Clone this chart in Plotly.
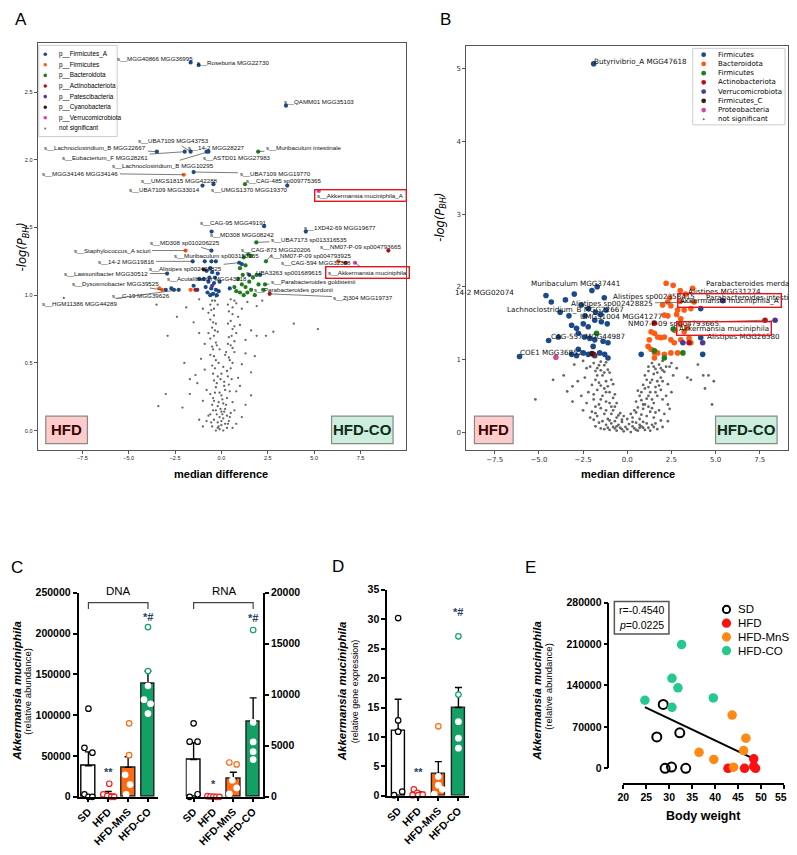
import numpy as np
import plotly.graph_objects as go

# the page body keeps an 8 px margin, so the figure is drawn 16 px smaller
# and every pixel position below is given in page pixels
OFF = 8
W, H = 797 - 2 * OFF, 855 - 2 * OFF
ARIAL = "Arial, Liberation Sans, sans-serif"
DJV = "DejaVu Sans, sans-serif"


def fx(px):
    return (px - OFF) / W


def fy(py):
    return 1 - (py - OFF) / H


# ---------------- A: volcano (HFD vs HFD-CO, DNA) ----------------
a_ns = [(-0.3, 0.0), (-0.1, 0.01), (0.1, 0.0), (0.3, 0.02), (-0.5, 0.03), (0.0, 0.04), (0.2, 0.05),
        (-0.2, 0.06), (0.4, 0.07), (-0.4, 0.08), (0.1, 0.09), (-0.1, 0.1), (0.3, 0.11), (-0.6, 0.12),
        (0.5, 0.13), (0.0, 0.14), (-0.3, 0.15), (0.2, 0.16), (-1.0, 0.03), (-0.8, 0.07), (0.8, 0.05),
        (1.1, 0.1), (-1.2, 0.08), (0.6, 0.02), (-0.7, 0.11), (0.7, 0.15), (-0.2, 0.02), (0.0, 0.07),
        (-0.2, 0.18), (0.1, 0.2), (-0.4, 0.22), (0.3, 0.24), (0.0, 0.26), (-0.1, 0.28), (0.2, 0.3),
        (-0.3, 0.32), (0.4, 0.34), (-0.5, 0.19), (0.6, 0.21), (-0.6, 0.27), (0.8, 0.29), (-0.8, 0.3),
        (1.0, 0.33), (-1.0, 0.22), (1.3, 0.19), (-3.4, 0.18), (-2.1, 0.17), (-3.0, 0.27), (-1.7, 0.27),
        (-1.3, 0.35), (1.6, 0.26), (-0.4, 0.37), (-0.2, 0.4), (0.0, 0.42), (0.3, 0.44), (0.5, 0.46),
        (-0.5, 0.48), (0.6, 0.5), (-0.3, 0.52), (0.4, 0.54), (-0.6, 0.56), (0.7, 0.58), (-0.1, 0.6),
        (0.9, 0.39), (-0.9, 0.45), (1.1, 0.49), (-1.1, 0.53), (1.3, 0.57), (-1.4, 0.41), (1.6, 0.43),
        (1.8, 0.55), (-2.0, 0.5), (-1.7, 0.38), (-0.5, 0.62), (-0.3, 0.65), (-0.6, 0.68), (-0.4, 0.7),
        (-0.2, 0.73), (-0.5, 0.76), (-0.3, 0.79), (-0.6, 0.82), (-0.4, 0.85), (0.5, 0.63), (0.7, 0.66),
        (0.4, 0.69), (0.8, 0.72), (0.6, 0.75), (1.0, 0.78), (0.5, 0.81), (0.9, 0.84), (-0.9, 0.64),
        (-1.2, 0.72), (-1.5, 0.8), (1.3, 0.67), (1.6, 0.74), (1.9, 0.7), (2.4, 0.7), (2.8, 0.73),
        (3.9, 0.79), (5.2, 0.75), (-2.9, 0.7), (-2.4, 0.84), (-1.0, 0.9), (-0.7, 0.87), (-0.4, 0.9),
        (-0.2, 0.93), (-0.5, 0.96), (-0.3, 0.99), (0.4, 0.88), (0.6, 0.91), (0.8, 0.94), (0.5, 0.97),
        (1.1, 0.9), (1.4, 0.95), (-1.9, 0.91), (-3.5, 0.93), (-8.5, 0.98), (-1.2, 0.97), (1.9, 0.92),
        (2.2, 0.96), (-0.45, 0.24), (0.15, 0.36), (-0.35, 0.46), (0.25, 0.58), (-0.45, 0.6),
        (-0.15, 0.03), (0.35, 0.05), (-0.55, 0.06), (0.05, 0.12), (-0.25, 0.12), (0.45, 0.1),
        (-0.05, 0.16), (0.15, 0.14), (-0.45, 0.15), (0.25, 0.19), (-0.15, 0.21), (0.05, 0.23),
        (-0.35, 0.28), (0.45, 0.29), (0.15, 0.33), (-0.25, 0.35), (0.55, 0.38), (-0.05, 0.38),
        (0.35, 0.4), (-0.45, 0.42), (0.1, 0.47), (-0.15, 0.5), (0.45, 0.52), (-0.4, 0.55), (0.2, 0.56),
        (0.6, 0.61), (-0.25, 0.63), (0.35, 0.64), (-0.7, 0.72), (0.55, 0.7), (-0.35, 0.74), (0.7, 0.77),
        (-0.45, 0.8), (0.35, 0.79), (0.6, 0.86), (-0.55, 0.89), (0.7, 0.96), (-0.6, 0.93), (0.35, 0.93),
        (-0.35, 0.96)]
a_firmicutes_A = [(-1.66, 2.72), (-1.23, 2.70), (3.48, 2.40), (-3.48, 2.06), (-1.98, 2.06), (-1.66, 2.06),
                  (-0.8, 2.06), (-0.7, 2.06), (-1.5, 1.91), (-0.43, 1.82), (-1.02, 1.81), (3.55, 1.81),
                  (2.3, 1.51), (-0.53, 1.47), (4.55, 1.47), (-0.54, 1.33), (-1.55, 1.25), (-0.54, 1.25),
                  (-2.93, 1.16), (2.08, 1.15), (-0.65, 1.13), (-2.56, 1.04), (-2.3, 1.04), (0.96, 1.24),
                  (-0.9, 1.25), (-0.3, 1.25), (-0.8, 1.18), (-0.5, 1.17), (-0.2, 1.16), (-0.95, 1.12),
                  (-0.7, 1.1), (-0.4, 1.09), (-0.1, 1.1), (-0.85, 1.06), (-0.55, 1.05), (-0.3, 1.04),
                  (-0.15, 1.03), (-0.75, 1.02), (-0.45, 1.01), (-0.25, 1.0), (-0.6, 1.0), (-1.3, 1.04),
                  (-1.2, 1.12), (-1.5, 1.07), (-3.0, 1.04), (-2.7, 1.05), (0.45, 1.05), (1.1, 1.23),
                  (1.5, 1.15), (-0.35, 1.13), (-0.6, 1.2)]
a_firmicutes = [(-2.03, 1.89), (-1.93, 1.33), (-3.2, 1.04), (-3.35, 1.05), (-1.66, 1.04), (6.3, 1.25)]
a_bacteroidota = [(1.98, 2.06), (1.27, 1.82), (1.88, 1.39), (2.4, 1.25), (2.35, 1.08), (2.25, 1.04),
                  (1.2, 1.28), (1.45, 1.3), (1.6, 1.29), (1.3, 1.22), (1.0, 1.2), (0.9, 1.12), (1.1, 1.08),
                  (1.3, 1.06), (1.5, 1.1), (1.7, 1.13), (1.9, 1.15), (0.8, 1.03), (1.0, 1.02), (1.2, 1.0),
                  (1.4, 1.02), (1.6, 1.04), (1.8, 1.0), (2.0, 1.08), (1.15, 1.15), (0.7, 1.06)]
a_actinobacteriota = [(9.0, 1.33), (6.7, 1.24), (2.6, 1.01), (-1.4, 1.04)]
a_patescibacteria = [(-0.5, 1.07)]
a_cyanobacteria = [(-0.95, 1.19)]
a_verrucomicrobiota = [(5.25, 1.77), (7.2, 1.24)]

# label text, point x, point y, text centre x, text centre y, leader line
a_labels = [
    ("s__MGG40866 MGG36995", -1.66, 2.72, -3.59, 2.75, False),
    ("s__Roseburia MGG22730", -1.23, 2.70, 0.64, 2.72, False),
    ("s__QAMM01 MGG35103", 3.48, 2.40, 5.25, 2.43, False),
    ("s__Lachnoclostridium_B MGG22667", -3.48, 2.06, -6.8, 2.09, True),
    ("s__UBA7109 MGG43753", -1.66, 2.06, -2.57, 2.14, True),
    ("s__14-2 MGG28227", -0.8, 2.06, -0.27, 2.09, True),
    ("s__ASTD01 MGG27983", -0.75, 2.05, 0.86, 2.02, False),
    ("s__Muribaculum intestinale", 1.98, 2.06, 4.45, 2.09, True),
    ("s__Eubacterium_F MGG28261", -1.98, 2.06, -6.27, 2.02, True),
    ("s__Lachnoclostridium_B MGG10295", -0.7, 2.06, -3.16, 1.96, True),
    ("s__MGG34146 MGG34146", -2.03, 1.89, -7.6, 1.90, True),
    ("s__UBA7109 MGG19770", -1.5, 1.91, 2.89, 1.90, True),
    ("s__UMGS1815 MGG42288", -0.43, 1.82, -2.25, 1.85, False),
    ("s__UBA7109 MGG33014", -1.02, 1.81, -3.05, 1.78, False),
    ("s__CAG-485 sp009775365", 1.27, 1.82, 3.37, 1.85, False),
    ("s__UMGS1370 MGG19370", 3.55, 1.81, 1.5, 1.78, True),
    ("s__CAG-95 MGG49191", 2.3, 1.51, 0.64, 1.54, False),
    ("s__MD308 MGG08242", -0.53, 1.47, 1.12, 1.45, False),
    ("s__1XD42-69 MGG19677", 4.55, 1.47, 6.37, 1.50, False),
    ("s__UBA7173 sp013316535", 1.88, 1.39, 4.71, 1.41, True),
    ("s__MD308 sp010206225", -0.54, 1.33, -1.98, 1.39, True),
    ("s__Staphylococcus_A sciuri", -1.93, 1.33, -5.9, 1.33, True),
    ("s__NM07-P-09 sp004793665", 9.0, 1.33, 7.5, 1.36, False),
    ("s__CAG-873 MGG20206", 2.4, 1.25, 2.95, 1.34, True),
    ("s__Muribaculum sp003150235", -0.54, 1.25, -0.27, 1.29, False),
    ("s__14-2 MGG19816", -1.55, 1.25, -5.14, 1.25, True),
    ("s__NM07-P-09 sp004793925", 6.7, 1.24, 4.82, 1.29, True),
    ("s__CAG-594 MGG32308", 6.3, 1.25, 5.1, 1.24, False),
    ("s__Alistipes sp002428825", 0.96, 1.24, -1.93, 1.20, True),
    ("s__Lawsonibacter MGG30512", -2.93, 1.16, -6.2, 1.16, True),
    ("s__UBA3263 sp001689615", 2.08, 1.15, 3.37, 1.17, False),
    ("s__Acutalibacter MGG43218", -0.65, 1.13, -0.8, 1.12, False),
    ("s__Parabacteroides goldsteinii", 2.35, 1.08, 4.93, 1.10, True),
    ("s__Dysosmobacter MGG39525", -3.2, 1.04, -5.73, 1.09, True),
    ("s__C-19 MGG39626", -2.56, 1.04, -4.34, 1.00, True),
    ("s__Parabacteroides gordonii", 2.25, 1.04, 3.86, 1.04, False),
    ("s__Zj304 MGG19737", 2.6, 1.01, 7.66, 0.98, True),
    ("s__HGM11386 MGG44289", -2.3, 1.04, -7.66, 0.94, True),
]
a_boxed = [
    ("s__Akkermansia muciniphila_A", 5.25, 1.77, 7.5, 1.74, False),
    ("s__Akkermansia muciniphila", 7.2, 1.24, 7.9, 1.17, True),
]

# ---------------- B: volcano (HFD vs HFD-CO, RNA) ----------------
b_ns = [(-1.8, 0.08), (-1.5, 0.05), (-1.2, 0.1), (-1.0, 0.03), (-0.8, 0.07), (-0.6, 0.02), (-0.4, 0.06),
        (-0.2, 0.01), (0.0, 0.04), (0.2, 0.0), (0.4, 0.05), (0.6, 0.02), (0.8, 0.08), (1.0, 0.03),
        (1.2, 0.06), (1.4, 0.1), (1.7, 0.04), (2.0, 0.07), (-0.9, 0.12), (-0.5, 0.1), (0.1, 0.11),
        (0.5, 0.13), (0.9, 0.14), (-0.3, 0.14), (1.6, 0.12), (-1.4, 0.15), (2.3, 0.15), (-2.1, 0.2),
        (-0.7, 0.15), (0.3, 0.08), (-0.1, 0.07), (0.7, 0.1), (1.5, 0.07), (-1.6, 0.13), (0.0, 0.18),
        (-0.2, 0.22), (0.2, 0.25), (-1.1, 0.06), (1.1, 0.12), (-0.3, 0.04), (0.5, 0.03),
        (-2.0, 0.28), (-1.7, 0.22), (-1.3, 0.25), (-1.1, 0.18), (-0.8, 0.3), (-0.6, 0.2), (-0.4, 0.26),
        (-1.5, 0.33), (-0.9, 0.35), (-0.3, 0.17), (0.3, 0.2), (0.5, 0.27), (0.7, 0.18), (0.9, 0.32),
        (1.1, 0.22), (1.3, 0.28), (1.5, 0.2), (1.8, 0.3), (2.1, 0.25), (0.6, 0.34), (1.2, 0.35),
        (2.4, 0.32), (-2.5, 0.3), (-2.3, 0.4), (-1.9, 0.45), (-1.6, 0.38), (-1.4, 0.5), (-1.2, 0.42),
        (-1.0, 0.55), (-0.8, 0.47), (-0.6, 0.4), (-1.7, 0.58), (-2.6, 0.5), (-3.1, 0.42), (-3.4, 0.56),
        (-5.2, 0.45), (0.5, 0.42), (0.7, 0.5), (0.9, 0.38), (1.1, 0.46), (1.3, 0.55), (1.5, 0.4),
        (1.7, 0.5), (2.0, 0.45), (2.3, 0.38), (2.5, 0.55), (1.0, 0.6), (0.6, 0.57), (1.9, 0.58),
        (4.8, 0.38), (2.2, 0.5), (-2.0, 0.65), (-1.8, 0.72), (-1.6, 0.68), (-1.4, 0.78), (-1.2, 0.7),
        (-1.0, 0.82), (-0.8, 0.66), (-1.5, 0.85), (-2.4, 0.75), (-2.8, 0.7), (-3.6, 0.78), (-4.2, 0.72),
        (-3.1, 0.63), (0.9, 0.65), (1.1, 0.72), (1.3, 0.68), (1.5, 0.8), (1.7, 0.7), (1.9, 0.75),
        (2.1, 0.83), (2.3, 0.66), (2.6, 0.78), (1.2, 0.84), (3.4, 0.75), (3.6, 0.72), (4.3, 0.78),
        (4.6, 0.78), (4.4, 0.6), (4.9, 0.7), (-2.1, 0.9), (-1.9, 0.95), (-1.7, 0.88), (-1.5, 0.97),
        (-1.3, 0.92), (-1.1, 0.86), (-2.5, 0.98), (-3.0, 0.93), (1.2, 0.9), (1.4, 0.95), (1.6, 0.87),
        (1.8, 0.93), (2.0, 0.98), (2.2, 0.9), (2.5, 0.95), (2.8, 0.88), (4.0, 0.93),
        (-1.3, 0.6), (-0.9, 0.25), (1.6, 0.62), (1.4, 0.33), (-1.8, 0.35), (-2.2, 0.55), (2.0, 0.85),
        (-0.7, 0.05), (0.7, 0.06), (-1.3, 0.04), (1.3, 0.02), (0.3, 0.14), (-0.6, 0.08), (0.9, 0.06),
        (-1.0, 0.16), (1.9, 0.16), (-1.9, 0.17), (-0.5, 0.23), (0.4, 0.3), (-1.2, 0.3), (1.6, 0.27),
        (-1.8, 0.26), (0.8, 0.24), (-0.7, 0.35), (1.0, 0.38), (-1.0, 0.4), (1.4, 0.45), (-1.5, 0.45),
        (0.8, 0.44), (-0.7, 0.52), (1.2, 0.5), (-1.2, 0.55), (1.6, 0.55), (-1.9, 0.52), (0.8, 0.55),
        (-1.1, 0.63), (1.2, 0.62), (-1.5, 0.64), (1.8, 0.64), (-0.9, 0.72), (1.4, 0.72), (-1.7, 0.78),
        (2.0, 0.7), (-1.3, 0.82), (1.7, 0.82), (-1.8, 0.84), (1.0, 0.78), (-1.6, 0.92), (1.5, 0.9),
        (-1.2, 0.96), (1.9, 0.88), (-2.3, 0.88), (2.4, 0.9)]
b_firmicutes = [(-1.9, 5.07), (-6.1, 1.04), (-4.45, 1.26), (-4.3, 1.79), (-3.5, 1.82), (-3.9, 1.31),
                (-3.15, 1.47), (-2.87, 1.43), (-2.49, 1.49), (-2.21, 1.45), (-1.84, 1.54), (-1.47, 1.52),
                (-1.13, 1.49), (-2.77, 1.36), (-2.43, 1.31), (-2.12, 1.29), (-1.84, 1.27), (-1.37, 1.25),
                (-1.09, 1.23), (-3.15, 1.07), (-2.87, 1.05), (-2.49, 1.09), (-2.21, 1.07), (-1.84, 1.05),
                (-1.56, 1.09), (-1.28, 1.07), (-1.09, 1.02), (-2.77, 1.14), (-1.93, 1.18), (-3.0, 1.9),
                (-2.6, 1.75), (-2.2, 1.7), (-1.8, 1.65), (-1.5, 1.62), (-2.0, 1.95), (-1.7, 2.0),
                (-1.2, 1.68), (-3.8, 1.65), (-2.4, 1.6), (-3.3, 1.6), (-4.6, 1.88), (-1.3, 1.85),
                (4.16, 1.3), (4.27, 1.07), (0.79, 1.07), (4.16, 1.7)]
b_bacteroidota = [(2.2, 2.05), (2.6, 2.02), (3.0, 1.95), (3.3, 1.9), (3.7, 1.98), (3.0, 1.8), (2.4, 1.85),
                  (2.0, 1.75), (3.6, 1.7), (2.8, 1.62), (2.3, 1.6), (2.29, 1.79), (2.47, 1.74), (2.85, 1.68),
                  (3.22, 1.68), (3.78, 1.79), (2.1, 1.61), (3.03, 1.56), (1.35, 1.38), (1.54, 1.36),
                  (1.72, 1.31), (2.1, 1.31), (2.47, 1.27), (2.66, 1.23), (3.03, 1.27), (3.22, 1.38),
                  (3.5, 1.29), (3.6, 1.23), (1.18, 1.18), (1.35, 1.14), (1.54, 1.09), (1.72, 1.09),
                  (2.1, 1.07), (2.47, 1.09), (2.85, 1.09), (1.54, 1.02), (1.25, 1.27), (1.91, 1.3),
                  (3.0, 1.48), (3.4, 1.44), (2.7, 1.4)]
b_firmicutes2 = [(2.6, 1.42), (3.15, 1.09), (1.54, 1.12), (-1.74, 1.36), (2.1, 1.02)]
b_actinobacteriota = [(7.8, 1.54), (1.54, 1.5), (3.5, 1.23), (-1.9, 1.07)]
b_verrucomicrobiota = [(8.37, 1.54), (3.15, 1.23), (4.27, 1.23), (5.4, 1.81)]
b_firmicutes_C = [(-2.0, 1.08)]
b_proteobacteria = [(-4.04, 1.03)]

b_labels = [
    ("Butyrivibrio_A MGG47618", -1.9, 5.07, 0.75, 5.10, False),
    ("Muribaculum MGG37441", 2.2, 2.05, -2.92, 2.04, False),
    ("Parabacteroides merdae", 3.7, 1.98, 6.97, 2.05, False),
    ("14-2 MGG02074", -4.6, 1.88, -8.1, 1.92, False),
    ("Alistipes MGG31274", 3.3, 1.9, 5.5, 1.93, False),
    ("Alistipes sp002358415", 3.0, 1.95, 1.52, 1.86, False),
    ("Parabacteroides intestinalis", 3.0, 1.8, 7.25, 1.85, False),
    ("Alistipes sp002428825", 3.78, 1.79, -0.84, 1.77, True),
    ("Lachnoclostridium_B MGG22667", -3.5, 1.82, -3.48, 1.69, False),
    ("UMGS1004 MGG41277", -1.13, 1.49, -0.34, 1.59, False),
    ("NM07-P-09 sp004793665", 7.8, 1.54, 2.64, 1.50, True),
    ("Alistipes MGG26580", 3.6, 1.23, 6.57, 1.32, False),
    ("CAG-557 MGG44987", -2.43, 1.31, -2.25, 1.32, False),
    ("COE1 MGG36852", -6.1, 1.04, -4.33, 1.09, False),
]
b_boxed = [
    ("Akkermansia muciniphila_A", 5.4, 1.81, 5.79, 1.81, False),
    ("Akkermansia muciniphila", 8.37, 1.54, 5.5, 1.43, True),
]

# ---------------- C: qPCR DNA / RNA ----------------
groups = ["SD", "HFD", "HFD-MnS", "HFD-CO"]
dna_mean = [38000, 3000, 36000, 139000]
dna_sem = [17000, 3500, 13000, 15000]
dna_pts = [[108000, 60000, 54000, 3000, 0, 0],
           [16000, 3000, 1000, 0, 0],
           [90000, 51000, 27000, 15000, 3000],
           [208000, 154000, 136000, 119000, 114000, 102000]]
dna_jit = [[0.0, -0.2, 0.2, -0.2, 0.0, 0.2],
           [0.05, -0.25, -0.05, 0.15, 0.3],
           [0.05, 0.05, -0.15, 0.1, -0.1],
           [0.0, 0.0, 0.0, -0.2, 0.13, 0.0]]
rna_mean = [3650, 30, 1750, 7400]
rna_sem = [1650, 30, 650, 2300]
rna_pts = [[7200, 5400, 5400, 250, 0],
           [60, 30, 20, 0, 0],
           [3360, 3170, 1630, 870, 290],
           [16350, 7300, 5380, 4420, 3650]]
rna_jit = [[0.0, -0.2, 0.2, 0.2, -0.2],
           [-0.3, -0.15, 0.0, 0.15, 0.3],
           [-0.2, 0.17, -0.05, 0.17, -0.2],
           [0.0, 0.0, 0.0, 0.0, 0.0]]

# ---------------- D: relative gene expression ----------------
d_mean = [11.0, 0.45, 3.7, 15.0]
d_sem = [5.4, 0.2, 2.1, 3.4]
d_pts = [[30.2, 12.8, 10.9, 0.7, 0.1],
         [1.1, 0.5, 0.1, 0.1, 0.2],
         [11.8, 3.3, 1.8, 1.1, 0.3],
         [27.1, 17.2, 12.6, 9.8, 8.1]]
d_jit = [[0.0, 0.0, 0.0, 0.2, -0.2],
         [-0.22, -0.05, -0.28, 0.0, 0.22],
         [0.0, 0.0, 0.0, 0.2, -0.2],
         [0.0, 0.0, 0.0, 0.0, 0.0]]

# ---------------- E: correlation with body weight ----------------
e_sd_w = [28.7, 27.3, 32.3, 29.1, 30.5, 33.6]
e_sd_a = [108000, 53000, 60000, 0, 2200, 0]
e_hfd_w = [42.8, 46.4, 48.4, 48.4, 48.8]
e_hfd_a = [0, 0, 16000, 3300, 0]
e_mns_w = [43.7, 46.7, 46.2, 36.5, 39.7, 44.0]
e_mns_a = [90000, 51000, 30000, 27000, 15000, 2000]
e_co_w = [32.7, 30.6, 31.9, 39.6, 24.7, 30.6]
e_co_a = [209000, 152000, 136000, 119000, 115000, 103000]

# colours
BLUE, ORANGE, GREEN, RED = "#1b4a8a", "#ff5b14", "#1e7d1e", "#b0151b"
PURPLE, BROWN, MAGENTA, PINK, GREY = "#54349a", "#3c1a14", "#d23fb4", "#d6489c", "#666666"
C_GROUP = ["black", "#ff1a1a", "#ff6a13", "#12a064"]
C_FILL = ["white", "white", "#ff6a13", "#12a064"]
E_COL = ["black", "#ff1010", "#ff8a12", "#25c98b"]

fig = go.Figure()


def scat(pts, color, size, xa, ya):
    xs, ys = zip(*pts)
    fig.add_trace(go.Scatter(x=xs, y=ys, mode="markers", xaxis=xa, yaxis=ya,
                             marker=dict(color=color, size=size, line=dict(width=0)),
                             showlegend=False, hoverinfo="skip"))


# A
scat(a_ns, GREY, 2.3, "x", "y")
for pts, col in [(a_bacteroidota, GREEN), (a_firmicutes_A, BLUE), (a_firmicutes, ORANGE),
                 (a_actinobacteriota, RED), (a_patescibacteria, PURPLE), (a_cyanobacteria, BROWN),
                 (a_verrucomicrobiota, MAGENTA)]:
    scat(pts, col, 4.2, "x", "y")

# B
scat(b_ns, GREY, 2.8, "x2", "y2")
for pts, col in [(b_firmicutes, BLUE), (b_bacteroidota, ORANGE), (b_firmicutes2, GREEN),
                 (b_actinobacteriota, RED), (b_verrucomicrobiota, PURPLE), (b_firmicutes_C, BROWN),
                 (b_proteobacteria, PINK)]:
    scat(pts, col, 5.6, "x2", "y2")


def bar_panel(mean, sem, pts, jit, xa, ya, width):
    fig.add_trace(go.Bar(x=list(range(4)), y=mean, width=width, xaxis=xa, yaxis=ya,
                         marker=dict(color=C_FILL, line=dict(color=["black", "#ff1a1a", "#222", "#222"], width=1.4)),
                         error_y=dict(type="data", array=sem, arrayminus=[0] * 4, symmetric=False,
                                      color="black", thickness=1.4, width=3.5),
                         showlegend=False, hoverinfo="skip"))
    for i in range(4):
        xs = [i + j for j in jit[i]]
        lines = []
        for v in pts[i]:
            if C_FILL[i] != "white" and v <= mean[i] + sem[i] * 0.5:
                lines.append("white")
            else:
                lines.append(C_GROUP[i])
        fig.add_trace(go.Scatter(x=xs, y=pts[i], mode="markers", xaxis=xa, yaxis=ya, cliponaxis=False,
                                 marker=dict(color="white", size=5.5, line=dict(color=lines, width=1.2)),
                                 showlegend=False, hoverinfo="skip"))


bar_panel(dna_mean, dna_sem, dna_pts, dna_jit, "x3", "y3", 0.7)
bar_panel(rna_mean, rna_sem, rna_pts, rna_jit, "x4", "y4", 0.7)
bar_panel(d_mean, d_sem, d_pts, d_jit, "x5", "y5", 0.65)

# E scatter + regression line
e_w = e_sd_w + e_hfd_w + e_mns_w + e_co_w
e_a = e_sd_a + e_hfd_a + e_mns_a + e_co_a
slope, icpt = np.polyfit(e_w, e_a, 1)
xl = np.array([min(e_w), max(e_w)])
fig.add_trace(go.Scatter(x=xl, y=slope * xl + icpt, mode="lines", xaxis="x6", yaxis="y6",
                         line=dict(color="black", width=2), showlegend=False, hoverinfo="skip"))
fig.add_trace(go.Scatter(x=e_sd_w, y=e_sd_a, mode="markers", xaxis="x6", yaxis="y6", cliponaxis=False,
                         marker=dict(color="rgba(0,0,0,0)", size=9, line=dict(color="black", width=2)),
                         showlegend=False, hoverinfo="skip"))
for w, a, col in [(e_hfd_w, e_hfd_a, E_COL[1]), (e_mns_w, e_mns_a, E_COL[2]), (e_co_w, e_co_a, E_COL[3])]:
    fig.add_trace(go.Scatter(x=w, y=a, mode="markers", xaxis="x6", yaxis="y6", cliponaxis=False,
                             marker=dict(color=col, size=9.5, line=dict(width=0)),
                             showlegend=False, hoverinfo="skip"))

ann = []
shapes = []


def text(px, py, s, size, family=ARIAL, color="black", weight="normal", angle=0,
         xanchor="center", style="normal"):
    ann.append(dict(x=fx(px), y=fy(py), xref="paper", yref="paper", text=s, showarrow=False,
                    xanchor=xanchor, yanchor="middle", textangle=angle,
                    font=dict(size=size, family=family, color=color, weight=weight, style=style)))


def rect(x0, y0, x1, y1, fill="rgba(0,0,0,0)", line="#777", lw=1.2):
    shapes.append(dict(type="rect", xref="paper", yref="paper", x0=fx(x0), x1=fx(x1), y0=fy(y1), y1=fy(y0),
                       fillcolor=fill, line=dict(color=line, width=lw), layer="above"))


def dot(px, py, r, color, line=None, lw=0):
    shapes.append(dict(type="circle", xref="paper", yref="paper", xsizemode="pixel", ysizemode="pixel",
                       xanchor=fx(px), yanchor=fy(py), x0=-r, x1=r, y0=-r, y1=r,
                       fillcolor=color, line=dict(color=line or color, width=lw), layer="above"))


def volcano_labels(labels, boxed, xr, yr, size, family):
    for lab, boxit in [(l, False) for l in labels] + [(b, True) for b in boxed]:
        s, px_, py_, tx, ty, line = lab
        d = dict(xref=xr, yref=yr, text=s, font=dict(size=size, family=family, color="#111"))
        if boxit:
            d.update(bordercolor="#e8141c", borderwidth=1.4, borderpad=1.5)
        if line:
            d.update(x=px_, y=py_, ax=tx, ay=ty, axref=xr, ayref=yr, showarrow=True, arrowhead=0,
                     arrowwidth=0.7, arrowcolor="#444", standoff=0)
        else:
            d.update(x=tx, y=ty, showarrow=False)
        ann.append(d)


volcano_labels(a_labels, a_boxed, "x", "y", 6.2, ARIAL)
volcano_labels(b_labels, b_boxed, "x2", "y2", 7.2, DJV)

# HFD / HFD-CO tags
for x0, x1, x2, x3 in [(40, 82, 328, 390), (472, 511, 715, 777)]:
    rect(x0, 418, x1, 446, fill="#ffcccc", line="#888", lw=1.2)
    rect(x2, 418, x3, 446, fill="#cdeedd", line="#888", lw=1.2)
    text((x0 + x1) / 2, 432, "HFD", 15, weight="bold", color="#3a0505")
    text((x2 + x3) / 2, 432, "HFD-CO", 15, weight="bold", color="#0d2a1a")

# legend A
rect(33, 40, 112, 133, fill="white", line="#cccccc", lw=1)
a_leg = [("p__Firmicutes_A", BLUE), ("p__Firmicutes", ORANGE), ("p__Bacteroidota", GREEN),
         ("p__Actinobacteriota", RED), ("p__Patescibacteria", PURPLE), ("p__Cyanobacteria", BROWN),
         ("p__Verrucomicrobiota", MAGENTA), ("not significant", GREY)]
for k, (s, c) in enumerate(a_leg):
    yy = 49 + k * 10.8
    dot(39.5, yy, 1.0 if k == 7 else 1.8, c)
    text(51, yy, s, 6.4, xanchor="left")

# legend B
rect(692, 43, 785, 121, fill="white", line="#cccccc", lw=1)
b_leg = [("Firmicutes", BLUE), ("Bacteroidota", ORANGE), ("Firmicutes", GREEN), ("Actinobacteriota", RED),
         ("Verrucomicrobiota", PURPLE), ("Firmicutes_C", BROWN), ("Proteobacteria", PINK),
         ("not significant", GREY)]
for k, (s, c) in enumerate(b_leg):
    yy = 49.5 + k * 9.4
    dot(703, yy, 1.0 if k == 7 else 2.4, c)
    text(715, yy, s, 7, family=DJV, xanchor="left")

# axis titles volcano
text(17, 245, "-log(P<sub>BH</sub>)", 11.5, style="italic", angle=-90, family=DJV)
text(437, 215, "-log(P<sub>BH</sub>)", 11.5, style="italic", angle=-90, family=DJV)
text(217, 477, "median difference", 11, weight="bold")
text(627, 477, "median difference", 11, weight="bold")

# panel letters
for s, px_, py_ in [("A", 15, 14), ("B", 443, 14), ("C", 11, 572), ("D", 335, 571), ("E", 529, 572)]:
    text(px_, py_, s, 17)

# C / D / E axis titles
for xp in [11, 338, 535]:
    text(xp, 698, "<i>Akkermansia muciniphila</i>", 11.5, weight="bold", angle=-90)
text(22, 698, "(relative abundance)", 9.5, angle=-90)
text(351, 698, "(relative gene expression)", 9, angle=-90)
text(547, 693, "(relative abundance)", 9.5, angle=-90)
text(703, 826, "Body weight", 12.5, weight="bold")

# brackets & significance in C
for xr, yr, top, tick in [("x3", "y3", 238000, 230000), ("x4", "y4", 19040, 18400)]:
    shapes.append(dict(type="path", xref=xr, yref=yr,
                       path=f"M 0,{tick} L 0,{top} L 3,{top} L 3,{tick}",
                       line=dict(color="#444", width=1.2)))
text(113, 596, "DNA", 11.5)
text(220, 596, "RNA", 11.5)
for xr, yr, x, y, s in [("x3", "y3", 1, 30000, "**"), ("x3", "y3", 3, 220000, "*#"),
                        ("x4", "y4", 1, 1300, "*"), ("x4", "y4", 3, 17500, "*#"),
                        ("x5", "y5", 1, 4.0, "**"), ("x5", "y5", 3, 31.2, "*#")]:
    ann.append(dict(x=x, y=y, xref=xr, yref=yr, text=s, showarrow=False,
                    font=dict(size=11, family=ARIAL, weight="bold")))

# E stats box and legend
rect(613, 607, 668, 640, line="#555", lw=1.5)
text(616, 615.5, "r=-0.4540", 10.5, xanchor="left")
text(616, 631, "<i>p</i>=0.0225", 10.5, xanchor="left")
for k, g in enumerate(groups):
    yy = 615 + k * 14
    if k == 0:
        dot(726, yy, 3.6, "white", line="black", lw=2)
    else:
        dot(726, yy, 4.6, E_COL[k])
    text(736, yy, g, 11.5, xanchor="left")
# last x tick label of E sits on the page edge: keep it inside the figure
ann.append(dict(x=1.0, y=fy(806), xref="paper", yref="paper", text="55", showarrow=False,
                xanchor="right", yanchor="middle",
                font=dict(size=10.5, family=ARIAL, weight="bold", color="black")))

vol_tick = dict(ticks="outside", ticklen=3, tickcolor="#555", showgrid=False, zeroline=False,
                showline=True, mirror=True, linecolor="#555", linewidth=1.4)
bar_ax = dict(showgrid=False, zeroline=False, showline=True, linecolor="black", linewidth=1.5,
              ticks="outside", ticklen=4, tickwidth=1.5, tickcolor="black",
              tickfont=dict(size=10.5, family=ARIAL, weight="bold", color="black"))
cat_ax = dict(bar_ax, tickvals=[0, 1, 2, 3], ticktext=groups, tickangle=-45, ticklen=3)

fig.update_layout(
    width=W, height=H, margin=dict(l=0, r=0, t=0, b=0),
    plot_bgcolor="white", paper_bgcolor="white", showlegend=False, bargap=0,
    xaxis=dict(vol_tick, domain=[fx(32), fx(403)], range=[-9.9, 9.95], anchor="y",
               tickvals=[-7.5, -5, -2.5, 0, 2.5, 5, 7.5], tickformat=".1f",
               tickfont=dict(size=5.5, family=ARIAL, color="#222")),
    yaxis=dict(vol_tick, domain=[fy(452), fy(38)], range=[-0.14, 2.86], anchor="x",
               tickvals=[0, 0.5, 1, 1.5, 2, 2.5], tickformat=".1f",
               tickfont=dict(size=5.5, family=ARIAL, color="#222")),
    xaxis2=dict(vol_tick, domain=[fx(464), fx(788)], range=[-9.1, 9.1], anchor="y2",
                tickvals=[-7.5, -5, -2.5, 0, 2.5, 5, 7.5], tickformat=".1f",
                tickfont=dict(size=7, family=DJV, color="#333")),
    yaxis2=dict(vol_tick, domain=[fy(452), fy(41)], range=[-0.24, 5.31], anchor="x2",
                tickvals=[0, 1, 2, 3, 4, 5], tickfont=dict(size=7, family=DJV, color="#333")),
    xaxis3=dict(cat_ax, domain=[fx(73), fx(153)], range=[-0.5, 3.5], anchor="y3"),
    yaxis3=dict(bar_ax, domain=[fy(806), fy(598)], range=[0, 250000], anchor="x3",
                tickvals=list(range(0, 250001, 50000)), tickformat="d"),
    xaxis4=dict(cat_ax, domain=[fx(181), fx(259)], range=[-0.4, 3.5], anchor="y4"),
    yaxis4=dict(bar_ax, domain=[fy(806), fy(598)], range=[0, 20000], anchor="x4", side="right",
                tickvals=list(range(0, 20001, 5000)), tickformat="d"),
    xaxis5=dict(cat_ax, domain=[fx(384), fx(467)], range=[-0.55, 3.55], anchor="y5"),
    yaxis5=dict(bar_ax, domain=[fy(805), fy(595)], range=[0, 35], anchor="x5", dtick=5),
    xaxis6=dict(bar_ax, domain=[fx(622), fx(784)], range=[20, 55], anchor="free", position=fy(793),
                tickvals=[20, 25, 30, 35, 40, 45, 50, 55], ticktext=["20", "25", "30", "35", "40", "45", "50", ""]),
    yaxis6=dict(bar_ax, domain=[fy(777), fy(608)], range=[0, 280000], anchor="free", position=fx(607),
                tickvals=[0, 70000, 140000, 210000, 280000], tickformat="d"),
    annotations=ann, shapes=shapes,
)

fig.write_html("out.html")
